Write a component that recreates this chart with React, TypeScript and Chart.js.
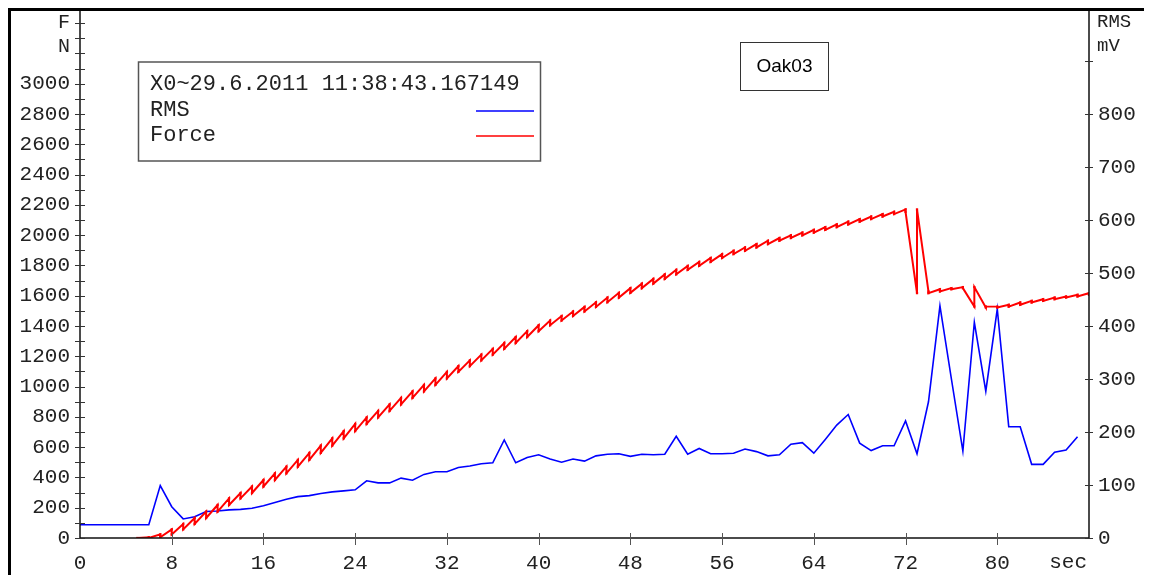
import React, { useEffect, useRef } from "react";
import { Chart, registerables } from "chart.js";

Chart.register(...registerables);

// RMS (mV), one sample per second starting at t = 0 s
const rmsMv = [
  25, 25, 25, 25, 25, 25, 25, 99, 59, 36,
  40, 50, 51, 53, 54, 56, 61, 67, 73, 78,
  80, 84, 87, 89, 91, 108, 104, 104, 113, 109,
  120, 125, 125, 133, 136, 140, 142, 185, 142, 152,
  157, 149, 143, 149, 145, 155, 158, 159, 154, 158,
  157, 158, 192, 158, 169, 159, 159, 160, 168, 163,
  155, 157, 177, 180, 160, 186, 213, 233, 179, 165,
  174, 174, 221, 159, 257, 438, 300, 164, 407, 277,
  432, 210, 210, 139, 139, 162, 166, 191,
];

// Force (N), one sample per second starting at t = 5 s
const forceStartSec = 5;
const forceN = [
  0, 5, 24, 57, 93, 132, 174, 218, 262, 297,
  340, 383, 427, 471, 516, 562, 610, 658, 706, 753,
  796, 839, 882, 925, 968, 1011, 1054, 1097, 1135, 1173,
  1211, 1249, 1288, 1327, 1366, 1405, 1436, 1466, 1496, 1526,
  1557, 1588, 1619, 1650, 1680, 1711, 1741, 1771, 1797, 1823,
  1849, 1875, 1897, 1919, 1941, 1963, 1981, 1999, 2017, 2035,
  2053, 2071, 2089, 2106, 2123, 2139, 2154, 2170, 1617, 1628,
  1643, 1650, 1657, 1529, 1522, 1528, 1540, 1555, 1566, 1577,
  1588, 1595, 1606, 1617,
];

const xTickStep = 8;
const xMax = 88;
const leftMax = 3500;
const leftLabelMax = 3000;
const rightMax = 1000;
const rightLabelMax = 800;

const legendTitle = "X0~29.6.2011 11:38:43.167149";
const rmsLabel = "RMS";
const forceLabel = "Force";
const boxTitle = "Oak03";

const MONO = "'Liberation Mono', 'DejaVu Sans Mono', monospace";
const SANS = "'Liberation Sans', Arial, sans-serif";
const TEXT = "#222";

const overlayPlugin = {
  id: "overlay",
  afterDraw(chart: any) {
    const ctx = chart.ctx as CanvasRenderingContext2D;
    const xs = chart.scales.x;
    const yl = chart.scales.y;
    const yr = chart.scales.y2;
    const L = chart.chartArea.left;
    const R = chart.chartArea.right;
    const B = chart.chartArea.bottom;
    const T = chart.chartArea.top;
    ctx.save();
    // axis lines
    ctx.strokeStyle = "#111";
    ctx.lineWidth = 1.5;
    ctx.beginPath();
    ctx.moveTo(L, T);
    ctx.lineTo(L, B);
    ctx.lineTo(R, B);
    ctx.moveTo(R, T);
    ctx.lineTo(R, B);
    ctx.stroke();
    // tick marks
    ctx.lineWidth = 1;
    ctx.strokeStyle = "#333";
    ctx.beginPath();
    for (let v = 0; v <= leftMax; v += 100) {
      const y = Math.round(yl.getPixelForValue(v)) + 0.5;
      ctx.moveTo(L - 5, y);
      ctx.lineTo(L + 5, y);
    }
    for (let v = 0; v <= rightMax; v += 100) {
      const y = Math.round(yr.getPixelForValue(v)) + 0.5;
      ctx.moveTo(R - 4, y);
      ctx.lineTo(R + 4, y);
    }
    ctx.stroke();
    ctx.strokeStyle = "#555";
    ctx.beginPath();
    for (let v = xTickStep; v < xMax; v += xTickStep) {
      const x = Math.round(xs.getPixelForValue(v)) + 0.5;
      ctx.moveTo(x, B - 5);
      ctx.lineTo(x, B + 7);
    }
    ctx.stroke();

    // axis unit labels
    ctx.fillStyle = TEXT;
    ctx.font = `20px ${MONO}`;
    ctx.textBaseline = "middle";
    ctx.textAlign = "right";
    ctx.fillText("F", L - 10, 15);
    ctx.fillText("N", L - 10, 39);
    ctx.textAlign = "left";
    ctx.font = `19px ${MONO}`;
    ctx.fillText("RMS", R + 8, 14);
    ctx.fillText("mV", R + 8, 38);
    ctx.font = `21px ${MONO}`;
    ctx.textAlign = "right";
    ctx.fillText("sec", R - 2, 554);

    // legend box
    ctx.strokeStyle = "#555";
    ctx.lineWidth = 1.5;
    ctx.strokeRect(130.5, 54, 402, 99);
    ctx.fillStyle = TEXT;
    ctx.font = `22px ${MONO}`;
    ctx.textAlign = "left";
    ctx.fillText(legendTitle, 142, 76.5);
    ctx.fillText(rmsLabel, 142, 102);
    ctx.fillText(forceLabel, 142, 127);
    ctx.lineWidth = 1.5;
    ctx.strokeStyle = "#0000ff";
    ctx.beginPath();
    ctx.moveTo(468, 103);
    ctx.lineTo(526, 103);
    ctx.stroke();
    ctx.strokeStyle = "#ff0000";
    ctx.beginPath();
    ctx.moveTo(468, 128);
    ctx.lineTo(526, 128);
    ctx.stroke();

    // title box
    ctx.strokeStyle = "#333";
    ctx.lineWidth = 1;
    ctx.strokeRect(732.5, 34.5, 88, 48);
    ctx.fillStyle = "#000";
    ctx.font = `19px ${SANS}`;
    ctx.textAlign = "center";
    ctx.fillText(boxTitle, 776.5, 59);
    ctx.restore();
  },
};

export default function App() {
  const ref = useRef<HTMLCanvasElement | null>(null);

  useEffect(() => {
    if (!ref.current) return;
    const rmsPoints = rmsMv.map((v, i) => ({ x: i, y: v }));
    const forcePoints: { x: number; y: number }[] = [];
    forceN.forEach((v, i) => {
      const t = forceStartSec + i;
      forcePoints.push({ x: t, y: v });
      if (i > 0) forcePoints.push({ x: t, y: forceN[i - 1] });
    });

    const tickFont = { family: MONO, size: 21 };
    const noGrid = { display: false, drawTicks: false, tickLength: 0 };
    const chart = new Chart(ref.current, {
      type: "line",
      data: {
        datasets: [
          {
            label: forceLabel,
            data: forcePoints,
            yAxisID: "y",
            borderColor: "#ff0000",
            backgroundColor: "#ff0000",
            borderWidth: 2,
            pointRadius: 1.6,
            pointStyle: "rect",
            pointBorderWidth: 0,
            pointBackgroundColor: "#ff0000",
            tension: 0,
            order: 0,
          },
          {
            label: rmsLabel,
            data: rmsPoints,
            yAxisID: "y2",
            borderColor: "#0000ff",
            backgroundColor: "#0000ff",
            borderWidth: 1.6,
            pointRadius: 0,
            tension: 0,
            order: 1,
          },
        ],
      },
      options: {
        animation: false,
        responsive: false,
        maintainAspectRatio: false,
        parsing: false,
        normalized: true,
        layout: { padding: 0, autoPadding: false } as any,
        plugins: {
          legend: { display: false },
          tooltip: { enabled: false },
          title: { display: false },
        },
        scales: {
          x: {
            type: "linear",
            min: 0,
            max: xMax,
            grid: noGrid,
            border: { display: false },
            afterFit: (s: any) => {
              s.height = 37;
              s.paddingLeft = 0;
              s.paddingRight = 0;
            },
            ticks: {
              stepSize: xTickStep,
              autoSkip: false,
              maxRotation: 0,
              padding: 13,
              color: TEXT,
              font: tickFont,
              callback: (v: any) => (Number(v) >= xMax ? "" : String(v)),
            },
          },
          y: {
            type: "linear",
            position: "left",
            min: 0,
            max: leftMax,
            grid: noGrid,
            border: { display: false },
            afterFit: (s: any) => {
              s.width = 72;
              s.paddingTop = 0;
              s.paddingBottom = 0;
            },
            ticks: {
              stepSize: 100,
              autoSkip: false,
              padding: 10,
              color: TEXT,
              font: tickFont,
              callback: (v: any) => {
                const n = Number(v);
                return n % 200 === 0 && n <= leftLabelMax ? String(n) : "";
              },
            },
          },
          y2: {
            type: "linear",
            position: "right",
            min: 0,
            max: rightMax,
            grid: noGrid,
            border: { display: false },
            afterFit: (s: any) => {
              s.width = 63;
              s.paddingTop = 0;
              s.paddingBottom = 0;
            },
            ticks: {
              stepSize: 100,
              autoSkip: false,
              padding: 9,
              color: TEXT,
              font: tickFont,
              callback: (v: any) => {
                const n = Number(v);
                return n <= rightLabelMax ? String(n) : "";
              },
            },
          },
        },
      },
      plugins: [overlayPlugin],
    });
    return () => chart.destroy();
  }, []);

  return (
    <div style={{ position: "relative", width: 1144, height: 567, background: "#fff" }}>
      <canvas ref={ref} width={1144} height={567} style={{ display: "block", width: 1144, height: 567 }} />
      <div
        style={{
          position: "absolute",
          left: 0,
          top: 0,
          right: 0,
          bottom: 0,
          borderTop: "3px solid #000",
          borderLeft: "3px solid #000",
          pointerEvents: "none",
        }}
      />
    </div>
  );
}
